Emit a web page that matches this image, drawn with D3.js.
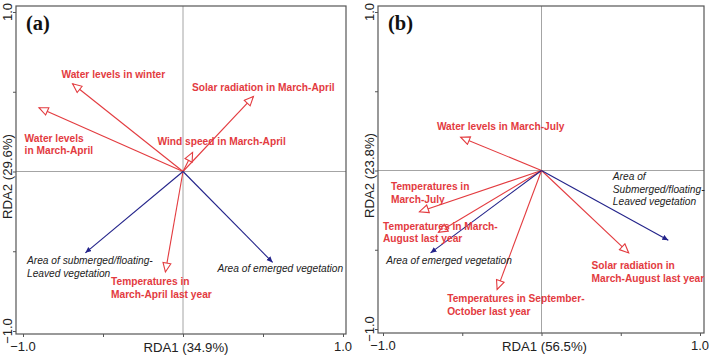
<!DOCTYPE html>
<html><head><meta charset="utf-8">
<script src="https://cdn.jsdelivr.net/npm/d3@7/dist/d3.min.js"></script>
<style>body{margin:0;background:#fff}svg{display:block}</style>
</head><body>
<svg id="c" width="709" height="356"></svg>
<script>
// ---- Data: panel (a) ----
const aNames = [
  ["Water levels in winter"],
  ["Water levels", "in March-April"],
  ["Solar radiation in March-April"],
  ["Wind speed in March-April"],
  ["Temperatures in", "March-April last year"],
  ["Area of submerged/floating-", "Leaved vegetation"],
  ["Area of emerged vegetation"]
];
const aType = ["env","env","env","env","env","resp","resp"];
const aX = [-0.69, -0.90, 0.44, 0.06, -0.11, -0.61, 0.56];
const aY = [0.55, 0.40, 0.47, 0.12, -0.63, -0.51, -0.57];
// ---- Data: panel (b) ----
const bNames = [
  ["Water levels in March-July"],
  ["Temperatures in", "March-July"],
  ["Temperatures in March-", "August last year"],
  ["Temperatures in September-", "October last year"],
  ["Solar radiation in", "March-August last year"],
  ["Area of emerged vegetation"],
  ["Area of", "Submerged/floating-", "Leaved vegetation"]
];
const bType = ["env","env","env","env","env","resp","resp"];
const bX = [-0.51, -0.77, -0.65, -0.28, 0.55, -0.70, 0.80];
const bY = [0.21, -0.26, -0.39, -0.75, -0.52, -0.52, -0.44];
// axis titles / ticks
const panelTags = ["(a)", "(b)"];
const xTitles = ["RDA1 (34.9%)", "RDA1 (56.5%)"];
const yTitles = ["RDA2 (29.6%)", "RDA2 (23.8%)"];
const tickLabelVals = [-1, 1];
const minorTicks = [-1, -0.5, 0, 0.5, 1];

// ---- Layout (label anchor positions in data units, kept apart from data) ----
const aLabelPos = [[-0.76,0.61],[-0.99,0.21],[0.056,0.53],[-0.16,0.19],[-0.45,-0.69],[-0.975,-0.56],[0.215,-0.61]];
const bLabelPos = [[-0.66,0.28],[-0.95,-0.10],[-1.0,-0.35],[-0.595,-0.81],[0.316,-0.60],[-0.98,-0.57],[0.45,-0.04]];

const RED = "#e33b3f", BLUE = "#23238a", FRAME = "#555", CROSS = "#9a9a9a";
const SANS = "'Liberation Sans', Arial, sans-serif";
const SERIF = "'Liberation Serif', 'Times New Roman', serif";

const svg = d3.select("#c");
const defs = svg.append("defs");
defs.append("marker").attr("id","headR").attr("markerUnits","userSpaceOnUse")
  .attr("markerWidth",12).attr("markerHeight",10).attr("refX",9).attr("refY",4)
  .attr("orient","auto").attr("viewBox","-1 -1 12 10")
  .append("path").attr("d","M0,0 L9,4 L0,8 Z").attr("fill","#fff").attr("stroke",RED).attr("stroke-width",1.1);
defs.append("marker").attr("id","headB").attr("markerUnits","userSpaceOnUse")
  .attr("markerWidth",8).attr("markerHeight",8).attr("refX",6).attr("refY",2.75)
  .attr("orient","auto").attr("viewBox","0 0 8 8")
  .append("path").attr("d","M0,0 L6,2.75 L0,5.5 Z").attr("fill",BLUE);

function panel(cfg){
  const {frame, xr, yr, names, types, xs, ys, lpos, tag, xTitle, yTitle} = cfg;
  const x = d3.scaleLinear().domain([-1,1]).range(xr);
  const y = d3.scaleLinear().domain([-1,1]).range(yr);
  const g = svg.append("g");
  // crosshair
  g.append("line").attr("x1",x(0)).attr("x2",x(0)).attr("y1",frame[1]).attr("y2",frame[3])
    .attr("stroke",CROSS).attr("stroke-width",0.9);
  g.append("line").attr("x1",frame[0]).attr("x2",frame[2]).attr("y1",y(0)).attr("y2",y(0))
    .attr("stroke",CROSS).attr("stroke-width",0.9);
  // frame
  g.append("rect").attr("x",frame[0]).attr("y",frame[1]).attr("width",frame[2]-frame[0]).attr("height",frame[3]-frame[1])
    .attr("fill","none").attr("stroke",FRAME).attr("stroke-width",1.2);
  // axes via d3
  const xa = d3.axisBottom(x).tickValues(minorTicks).tickSize(3).tickFormat("");
  g.append("g").attr("transform",`translate(0,${frame[3]})`).call(xa)
    .call(s=>{s.select(".domain").remove(); s.selectAll("line").attr("stroke",FRAME);});
  const ya = d3.axisLeft(y).tickValues(minorTicks).tickSize(3).tickFormat("");
  g.append("g").attr("transform",`translate(${frame[0]},0)`).call(ya)
    .call(s=>{s.select(".domain").remove(); s.selectAll("line").attr("stroke",FRAME);});
  // tick labels
  tickLabelVals.forEach(v=>{
    g.append("text").attr("x",x(v)).attr("y",frame[3]+17).attr("text-anchor","middle")
      .attr("font-family",SANS).attr("font-size",13).attr("fill","#222").text(d3.format(".1f")(v));
    g.append("text").attr("transform",`translate(${frame[0]-4},${y(v)}) rotate(-90)`).attr("text-anchor","middle")
      .attr("font-family",SANS).attr("font-size",13).attr("fill","#222").text(d3.format(".1f")(v));
  });
  g.append("text").attr("x",x(0)+3).attr("y",frame[3]+18).attr("text-anchor","middle")
    .attr("font-family",SANS).attr("font-size",13.2).attr("fill","#222").text(xTitle);
  g.append("text").attr("transform",`translate(${frame[0]-4},${y(0)+5}) rotate(-90)`).attr("text-anchor","middle")
    .attr("font-family",SANS).attr("font-size",13.2).attr("fill","#222").text(yTitle);
  g.append("text").attr("x",frame[0]+10).attr("y",frame[1]+24).attr("font-family",SERIF)
    .attr("font-weight","bold").attr("font-size",20.5).attr("fill","#111").text(tag);
  // arrows
  names.forEach((nm,i)=>{
    const env = types[i]==="env";
    g.append("line").attr("x1",x(0)).attr("y1",y(0)).attr("x2",x(xs[i])).attr("y2",y(ys[i]))
      .attr("stroke", env?RED:BLUE).attr("stroke-width",1.1)
      .attr("marker-end", env?"url(#headR)":"url(#headB)");
  });
  // labels
  names.forEach((nm,i)=>{
    const env = types[i]==="env";
    const t = g.append("text").attr("font-family",SANS).attr("font-size",10.2)
      .attr("font-weight", env?"bold":"normal").attr("font-style", env?"normal":"italic")
      .attr("fill", env?RED:"#222");
    nm.forEach((line,j)=>{
      t.append("tspan").attr("x",x(lpos[i][0])).attr("y",y(lpos[i][1])+3.6+j*(env?12.8:12.5)).text(line);
    });
  });
}

panel({frame:[16,6,346,334], xr:[23,343], yr:[331,12], names:aNames, types:aType, xs:aX, ys:aY,
  lpos:aLabelPos, tag:panelTags[0], xTitle:xTitles[0], yTitle:yTitles[0]});
panel({frame:[378,6,704,333], xr:[383,700], yr:[329,12], names:bNames, types:bType, xs:bX, ys:bY,
  lpos:bLabelPos, tag:panelTags[1], xTitle:xTitles[1], yTitle:yTitles[1]});
</script>
</body></html>
